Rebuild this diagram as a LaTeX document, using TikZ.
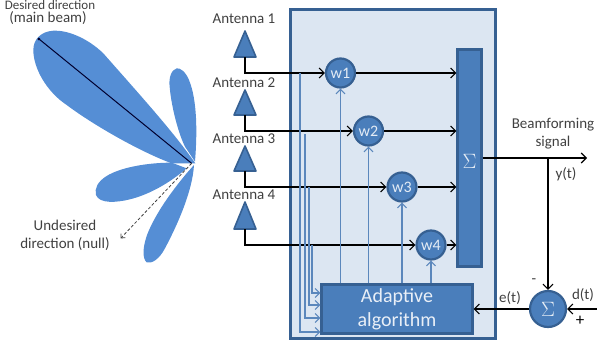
\documentclass[tikz,border=0pt]{standalone}
\usepackage{fontspec}
\setmainfont{Carlito}
\usetikzlibrary{arrows.meta}
\definecolor{panelfill}{HTML}{DCE6F2}
\definecolor{steel}{HTML}{4A7EBB}
\definecolor{steeldark}{HTML}{366092}
\definecolor{lobe}{HTML}{558ED5}
\definecolor{tap}{HTML}{5B87BC}
\definecolor{ink}{HTML}{404040}
\tikzset{
  label text/.style={text=ink,font=\fontsize{15}{18}\selectfont,inner sep=0pt,align=center},
  block/.style={draw=steeldark,fill=steel,line width=2.2pt},
  weight/.style={circle,block,minimum size=29pt,inner sep=0pt,text=white!85!steel,font=\fontsize{16}{18}\selectfont},
  antenna/.style={draw=steeldark,fill=steel,line width=1.6pt,line join=round},
  sig/.style={black,line width=1.4pt,-{Straight Barb[length=5pt,width=10pt,line width=1.1pt]}},
  ctl/.style={tap,line width=1.5pt,-{Straight Barb[length=4.5pt,width=9pt,line width=1.1pt]}},
}
\begin{document}
\begin{tikzpicture}[x=1pt,y=-1pt]
\useasboundingbox (0,0) rectangle (597,343);
\clip (0,0) rectangle (597,343);

% Radiation pattern: main lobe and three side lobes
\begin{scope}[x=0.3333pt,y=-0.3333pt]
\fill[lobe] (586,490) .. controls (520,395) and (420,285) .. (310,160)
  .. controls (260,112) and (200,90) .. (160,92)
  .. controls (120,95) and (100,120) .. (100,150)
  .. controls (100,205) and (140,275) .. (200,315)
  .. controls (280,375) and (420,455) .. (515,490) -- cycle;
\fill[lobe] (585,485) .. controls (592,400) and (592,300) .. (567,240)
  .. controls (557,215) and (540,203) .. (530,205)
  .. controls (513,210) and (506,235) .. (509,260)
  .. controls (514,320) and (535,400) .. (555,440) -- cycle;
\fill[lobe] (515,488) .. controls (440,488) and (360,503) .. (320,528)
  .. controls (293,545) and (283,565) .. (288,585)
  .. controls (298,612) and (350,608) .. (390,598)
  .. controls (450,583) and (510,548) .. (560,505) -- cycle;
\fill[lobe] (582,495) .. controls (578,570) and (535,670) .. (495,745)
  .. controls (478,778) and (455,792) .. (440,787)
  .. controls (426,775) and (428,740) .. (443,700)
  .. controls (468,640) and (510,580) .. (560,520) -- cycle;
\coordinate (origin) at (575,490);
\coordinate (peak) at (117,117);
\coordinate (nulldir) at (362,715);
\end{scope}
\draw[black!70!blue!60!black,line width=1pt] (origin) -- (peak);
\fill[black!70!blue!60!black] (peak) circle (1.5pt);
\draw[ink,line width=0.8pt,densely dashed,-{Straight Barb[length=3pt,width=6pt]}] (origin) -- (nulldir);
\node[label text,font=\fontsize{13}{15}\selectfont] (desired) at (50,5.5) {Desired direction};
\node[label text] (mainbeam) at (48,18.5) {(main beam)};
\node[label text] (undesired) at (65,235) {Undesired\\direction (null)};

% Processing panel
\node[draw=steeldark,fill=panelfill,line width=3pt,minimum width=205pt,minimum height=329pt,inner sep=0pt] (panel) at (392.5,173.5) {};

% Antennas
\foreach \i/\ya/\yb/\yt in {1/31/57/19, 2/90/115/83, 3/146/171/139, 4/202/229/195}{
  \draw[antenna] (245,\ya) -- (256,\yb) -- (234,\yb) -- cycle;
  \coordinate (ant\i) at (245,\yb);
  \node[label text] (antlabel\i) at (244,\yt) {Antenna \i};
}

% Summing bar and adaptive block
\node[block,minimum width=24pt,minimum height=217pt,inner sep=0pt] (sumbar) at (469.5,158) {};
\node[text=white!85!steel,font=\fontsize{21}{23}\selectfont,inner sep=0pt] (sumsign) at (469.5,161) {$\Sigma$};
\node[block,minimum width=151pt,minimum height=49pt,inner sep=0pt,align=center,text=white!88!steel,font=\fontsize{20}{24}\selectfont] (adaptive) at (397,309) {Adaptive\\algorithm};

% Weights
\node[weight] (w1) at (340.5,73) {w1};
\node[weight] (w2) at (368.5,131) {w2};
\node[weight] (w3) at (402,187) {w3};
\node[weight] (w4) at (431,245) {w4};

% Feeds from the array elements to the weights and on to the combiner
\foreach \i in {1,2,3,4}{
  \draw[sig] (ant\i) |- (w\i);
  \draw[sig] (w\i) -- (w\i -| sumbar.west);
}

% Antenna taps into the adaptive block
\coordinate (t1) at (300,73);
\coordinate (t2) at (305,134);
\coordinate (t3) at (309,187);
\coordinate (t4) at (312,245);
\draw[ctl] (t1) |- (adaptive.west |- 0,332);
\draw[ctl] (t2) |- (adaptive.west |- 0,318);
\draw[ctl] (t3) |- (adaptive.west |- 0,305);
\draw[ctl] (t4) |- (adaptive.west |- 0,293);

% Weight control lines
\foreach \i in {1,2,3,4}{
  \draw[ctl] (w\i |- adaptive.north) -- (w\i);
}

% Output and error path
\node[circle,block,minimum size=36pt,inner sep=0pt,text=white!85!steel,font=\fontsize{21}{23}\selectfont] (errsum) at (548,309) {$\Sigma$};
\coordinate (out) at (587,158);
\coordinate (junction) at (548,158);
\coordinate (dsrc) at (597,309);
\draw[sig] (sumbar.east |- out) -- (out);
\draw[sig] (junction) -- (errsum);
\draw[sig] (dsrc) -- (errsum);
\draw[sig] (errsum) -- (adaptive.east |- errsum);

\node[label text] (bf) at (553,133.5) {Beamforming\\signal};
\node[label text] (yt) at (566,174) {y(t)};
\node[label text] (et) at (510,298) {e(t)};
\node[label text] (dt) at (583,295) {d(t)};
\node[label text] (minus) at (534,281) {-};
\node[label text,font=\fontsize{17}{18}\selectfont,text=black] (plus) at (580,321) {+};
\end{tikzpicture}
\end{document}
